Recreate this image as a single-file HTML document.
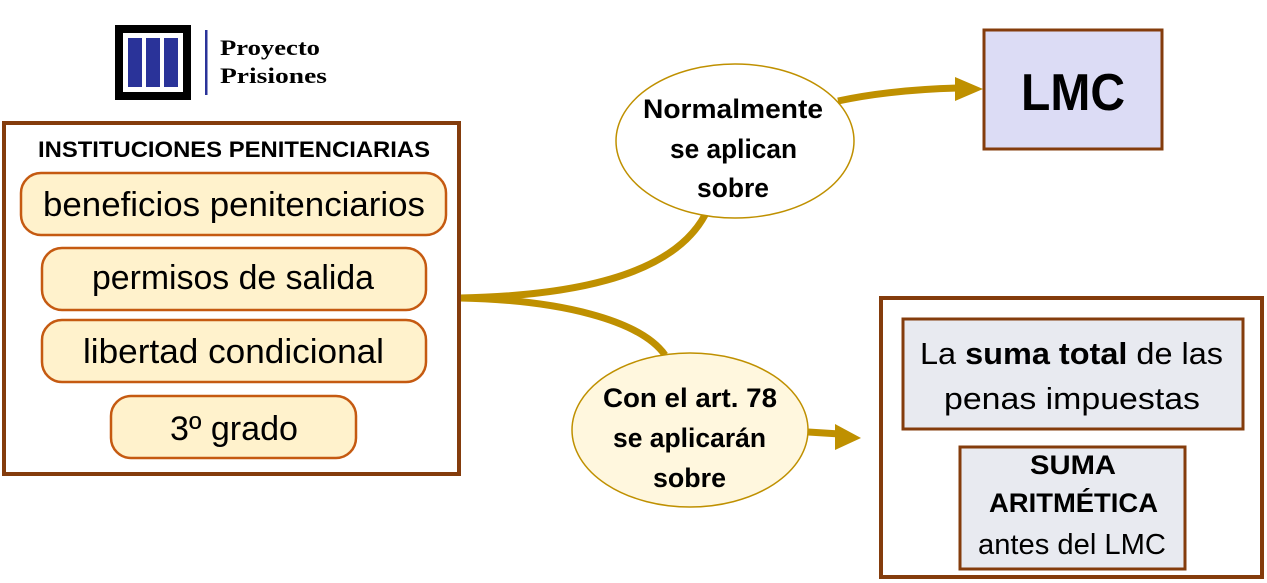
<!DOCTYPE html>
<html><head><meta charset="utf-8"><style>
html,body{margin:0;padding:0;background:#fff;}
svg{display:block;}
text{font-family:"Liberation Sans",sans-serif;fill:#000;}
</style></head><body>
<svg width="1267" height="583" viewBox="0 0 1267 583" xmlns="http://www.w3.org/2000/svg">
<!-- logo -->
<rect x="119" y="29" width="68" height="67" fill="#fff" stroke="#000" stroke-width="8"/>
<rect x="128" y="38" width="14" height="49" fill="#2a3399"/>
<rect x="146" y="38" width="14" height="49" fill="#2a3399"/>
<rect x="164" y="38" width="14" height="49" fill="#2a3399"/>
<rect x="205" y="30" width="2.5" height="65" fill="#2a3399"/>
<text x="220" y="55" font-size="22" font-weight="bold" textLength="100" lengthAdjust="spacingAndGlyphs" style="font-family:'Liberation Serif',serif">Proyecto</text>
<text x="220" y="83" font-size="22" font-weight="bold" textLength="107" lengthAdjust="spacingAndGlyphs" style="font-family:'Liberation Serif',serif">Prisiones</text>

<!-- connectors -->
<path d="M460,298 C560,296 670,280 705,215" fill="none" stroke="#bf9000" stroke-width="7"/>
<path d="M460,298 C560,300 640,320 665,355" fill="none" stroke="#bf9000" stroke-width="7"/>
<path d="M838,101 C880,92 920,89 958,88" fill="none" stroke="#bf9000" stroke-width="7"/>
<polygon points="955,77 983,89 955,101" fill="#bf9000"/>
<path d="M808,432 L840,434" fill="none" stroke="#bf9000" stroke-width="7"/>
<polygon points="835,424 861,438 835,450" fill="#bf9000"/>

<!-- left box -->
<rect x="4" y="123" width="455" height="351" fill="#fff" stroke="#843c0c" stroke-width="4"/>
<text x="38" y="157" font-size="22" font-weight="bold" textLength="392" lengthAdjust="spacingAndGlyphs">INSTITUCIONES PENITENCIARIAS</text>
<rect x="21" y="173" width="425" height="62" rx="20" fill="#fff2cc" stroke="#c55a11" stroke-width="2.5"/>
<text x="43" y="216" font-size="34" textLength="382" lengthAdjust="spacingAndGlyphs">beneficios penitenciarios</text>
<rect x="42" y="248" width="384" height="62" rx="20" fill="#fff2cc" stroke="#c55a11" stroke-width="2.5"/>
<text x="92" y="289" font-size="34" textLength="282" lengthAdjust="spacingAndGlyphs">permisos de salida</text>
<rect x="42" y="320" width="384" height="62" rx="20" fill="#fff2cc" stroke="#c55a11" stroke-width="2.5"/>
<text x="83" y="363" font-size="34" textLength="301" lengthAdjust="spacingAndGlyphs">libertad condicional</text>
<rect x="111" y="396" width="245" height="62" rx="20" fill="#fff2cc" stroke="#c55a11" stroke-width="2.5"/>
<text x="170" y="440" font-size="34" textLength="128" lengthAdjust="spacingAndGlyphs">3º grado</text>

<!-- ellipses -->
<ellipse cx="735" cy="141" rx="119" ry="77" fill="#fff" stroke="#bf9000" stroke-width="1.5"/>
<text x="643" y="118" font-size="27" font-weight="bold" textLength="180" lengthAdjust="spacingAndGlyphs">Normalmente</text>
<text x="670" y="158" font-size="27" font-weight="bold" textLength="127" lengthAdjust="spacingAndGlyphs">se aplican</text>
<text x="697" y="197" font-size="27" font-weight="bold" textLength="72" lengthAdjust="spacingAndGlyphs">sobre</text>
<ellipse cx="690" cy="430" rx="118" ry="77" fill="#fff7de" stroke="#bf9000" stroke-width="1.5"/>
<text x="603" y="407" font-size="27" font-weight="bold" textLength="174" lengthAdjust="spacingAndGlyphs">Con el art. 78</text>
<text x="613" y="447" font-size="27" font-weight="bold" textLength="153" lengthAdjust="spacingAndGlyphs">se aplicarán</text>
<text x="653" y="487" font-size="27" font-weight="bold" textLength="73" lengthAdjust="spacingAndGlyphs">sobre</text>

<!-- LMC -->
<rect x="984" y="30" width="178" height="119" fill="#dcdcf5" stroke="#843c0c" stroke-width="3"/>
<text x="1021" y="110" font-size="52" font-weight="bold" textLength="104" lengthAdjust="spacingAndGlyphs">LMC</text>

<!-- right box -->
<rect x="881" y="298" width="381" height="279" fill="#fff" stroke="#843c0c" stroke-width="4"/>
<rect x="903" y="319" width="340" height="110" fill="#e8eaf0" stroke="#843c0c" stroke-width="3"/>
<text x="920" y="364" font-size="31" textLength="303" lengthAdjust="spacingAndGlyphs">La <tspan font-weight="bold">suma total</tspan> de las</text>
<text x="944" y="409" font-size="31" textLength="256" lengthAdjust="spacingAndGlyphs">penas impuestas</text>
<rect x="960" y="447" width="225" height="122" fill="#e8eaf0" stroke="#843c0c" stroke-width="3"/>
<text x="1030" y="474" font-size="27" font-weight="bold" textLength="86" lengthAdjust="spacingAndGlyphs">SUMA</text>
<text x="989" y="512" font-size="27" font-weight="bold" textLength="169" lengthAdjust="spacingAndGlyphs">ARITMÉTICA</text>
<text x="978" y="554" font-size="29" textLength="188" lengthAdjust="spacingAndGlyphs">antes del LMC</text>
</svg>
</body></html>
